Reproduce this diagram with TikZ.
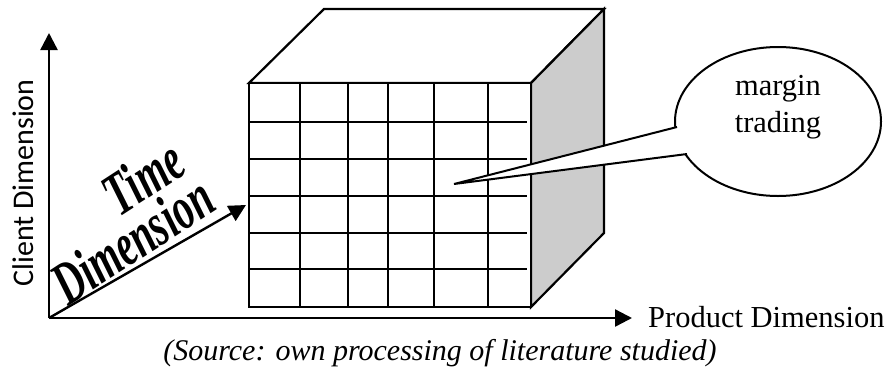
\documentclass[tikz,border=0pt]{standalone}
\usepackage{fontspec}
\setmainfont{Liberation Serif}
\newfontfamily\calibrifont{Carlito}
\newfontfamily\wordartfont{Liberation Serif}[UprightFont=* Bold Italic]
\usetikzlibrary{arrows.meta,shapes.geometric}
\definecolor{sidegray}{RGB}{204,204,204}
\begin{document}
\begin{tikzpicture}[x=1pt,y=-1pt,
  axisline/.style={line width=2.4pt,-{Triangle[length=17pt,width=17pt]}},
  cubeline/.style={line width=2.2pt,line join=miter},
  gridline/.style={line width=2pt},
  bigtext/.style={font=\fontsize{30.5}{37}\selectfont},
  wordart/.style={font=\wordartfont\fontsize{42}{42}\selectfont,inner sep=0pt,rotate=33}]
\useasboundingbox (0,0) rectangle (890,378);
% axes
\coordinate (O) at (49,318);
\coordinate (ytip) at (49,33);
\coordinate (xtip) at (632,318);
\coordinate (ztip) at (246,205);
\draw[axisline] (O) -- (ytip);
\draw[axisline] (O) -- (xtip);
\draw[axisline] (O) -- (ztip);
% cube
\coordinate (fl) at (249,83);
\coordinate (fr) at (531,83);
\coordinate (br) at (531,307);
\coordinate (bl) at (249,307);
\coordinate (tl) at (324,9);
\coordinate (tr) at (604,9);
\coordinate (rb) at (604,233);
\draw[cubeline,fill=white] (fl) -- (tl) -- (tr) -- (fr) -- cycle;
\draw[cubeline,fill=sidegray] (fr) -- (tr) -- (rb) -- (br) -- cycle;
\draw[cubeline,fill=white] (fl) rectangle (br);
\foreach \x in {300,348,388,434,488}
  \draw[gridline] (\x,83) -- (\x,307);
\foreach \y in {122,159,196,233,269}
  \draw[gridline] (249,\y) -- (527,\y);
% callout
\node[draw,ellipse,line width=2pt,fill=white,minimum width=206pt,minimum height=149pt,inner sep=0pt] (bubble) at (778,121.5) {};
\coordinate (p1) at (677,127);
\coordinate (tip) at (454,184);
\coordinate (p2) at (687,154);
\fill[white] (p1) -- (tip) -- (p2) -- (712,154) -- (712,127) -- cycle;
\draw[line width=2pt,line join=miter] (p1) -- (tip) -- (p2);
\node[bigtext,align=center,inner sep=0pt,anchor=base] (bubbletext) at (778,132) {margin\\trading};
% labels
\node[font=\calibrifont\fontsize{30}{30}\selectfont,rotate=90,inner sep=0pt] (clientlabel) at (23,183) {Client Dimension};
\node[bigtext,anchor=west,inner sep=0pt] (productlabel) at (648,317.5) {Product Dimension};
\node[wordart] (timelabel) at (143,177) {\scalebox{0.95}[1.45]{Time}};
\node[wordart] (dimlabel) at (132,240) {\scalebox{0.95}[1.45]{Dimension}};
\node[font=\fontsize{30}{30}\selectfont\itshape,anchor=base,inner sep=0pt] (caption) at (440,360) {(Source: own processing of literature studied)};
\end{tikzpicture}
\end{document}
